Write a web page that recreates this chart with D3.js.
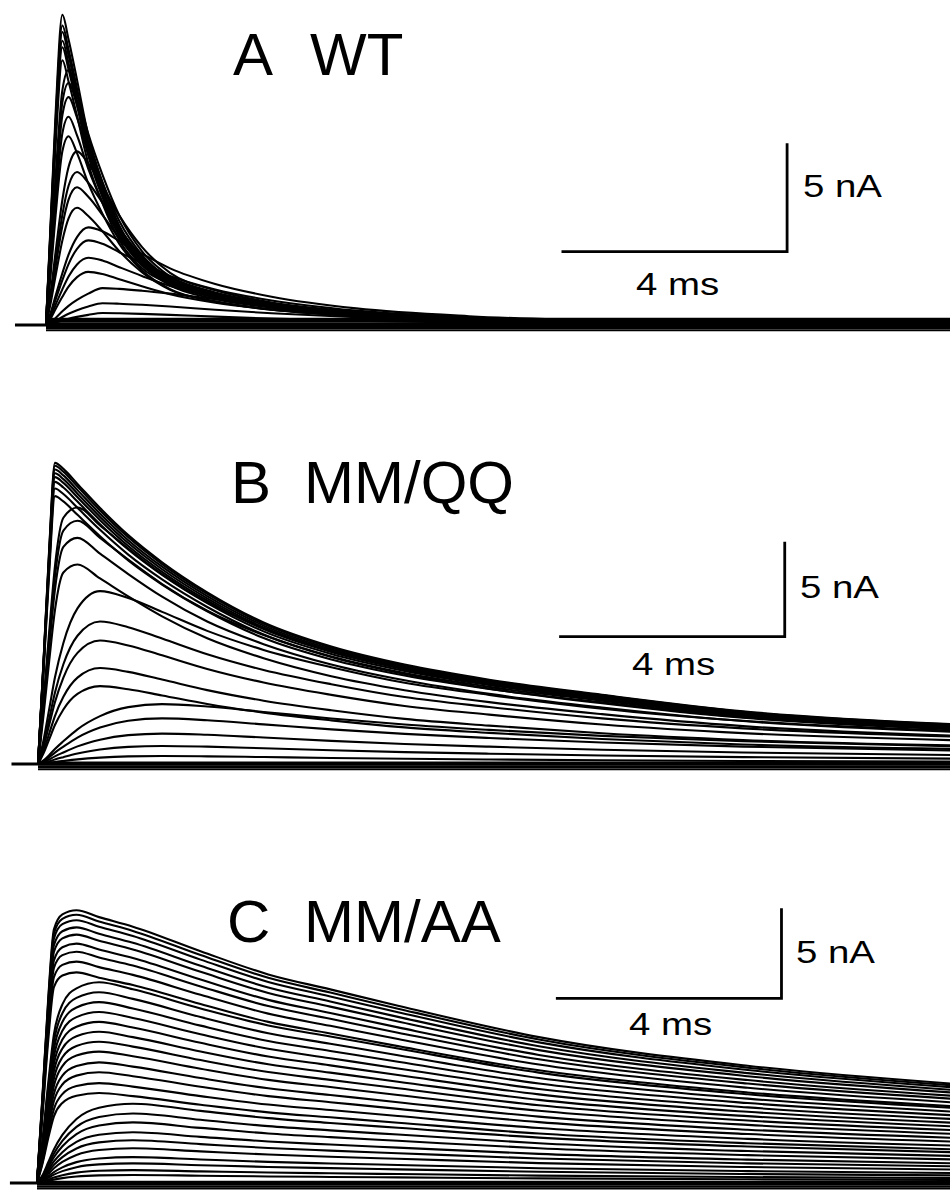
<!DOCTYPE html>
<html>
<head>
<meta charset="utf-8">
<script src="https://cdn.jsdelivr.net/npm/d3@7/dist/d3.min.js"></script>
<style>
  body { margin: 0; background: #fff; }
  svg { display: block; }
  text { font-family: "Liberation Sans", Arial, Helvetica, sans-serif; fill: #000; }
</style>
</head>
<body>
<div id="chart"></div>
<script>
// panel titles
const panelLetters = ["A", "B", "C"];
const panelNames = ["WT", "MM/QQ", "MM/AA"];

// scale bar sizes
const barTime = 4;    // ms
const barCurrent = 5; // nA
const barTimeLabel = "4 ms";
const barCurrentLabel = "5 nA";

// ---- A  WT ----
// sample times, ms after the step
const timesA = [0, 0.08, 0.17, 0.29, 0.4, 0.55, 0.75, 1.0, 1.3, 1.7, 2.2, 3.0, 4.0, 5.5, 7.5, 10.5, 16.5];
// normalised time courses (fast big ones -> slow small ones)
const shapesA = [
  [0, 0.32, 0.68, 1.0, 0.92, 0.79, 0.61, 0.46, 0.32, 0.215, 0.155, 0.105, 0.07, 0.04, 0.022, 0.012, 0.004],
  [0, 0.26, 0.58, 0.92, 1.0, 0.91, 0.75, 0.59, 0.43, 0.29, 0.19, 0.125, 0.083, 0.05, 0.027, 0.014, 0.005],
  [0, 0.18, 0.42, 0.72, 0.91, 1.0, 0.93, 0.8, 0.63, 0.45, 0.3, 0.2, 0.13, 0.078, 0.042, 0.02, 0.007],
  [0, 0.12, 0.3, 0.53, 0.72, 0.9, 1.0, 0.96, 0.86, 0.73, 0.58, 0.42, 0.29, 0.17, 0.09, 0.042, 0.012],
  [0, 0.07, 0.19, 0.37, 0.52, 0.68, 0.85, 1.0, 0.98, 0.93, 0.85, 0.7, 0.54, 0.36, 0.2, 0.09, 0.02]
];
// peak current of each trace (nA) and which time course it follows
const peaksA = [14.3, 13.8, 13.5, 13.1, 12.8, 12.2, 11.75, 11.15, 10.5, 9.6, 8.7, 8.0, 7.05, 6.35, 5.4, 4.5, 3.9, 3.1, 2.45, 1.7, 1.0, 0.55];
const shapeIndexA = [0, 0, 0, 0, 0, 0, 1, 1, 1, 1, 1, 2, 2, 2, 2, 3, 3, 3, 3, 4, 4, 4];
// small steady offsets that thicken the baseline (nA)
const leakA = [0.28, 0.18, 0.08, -0.04, -0.14, -0.24];

// ---- B  MM/QQ ----
const timesB = [0, 0.1, 0.2, 0.3, 0.45, 0.7, 1.1, 1.6, 2.2, 3.0, 4.0, 5.2, 6.5, 8.0, 10, 12.5, 16.5];
const shapesB = [
  [0, 0.35, 0.72, 1.0, 0.98, 0.93, 0.85, 0.76, 0.67, 0.57, 0.47, 0.39, 0.33, 0.28, 0.23, 0.175, 0.13],
  [0, 0.25, 0.52, 0.77, 0.96, 1.0, 0.93, 0.84, 0.74, 0.63, 0.53, 0.44, 0.37, 0.31, 0.25, 0.19, 0.14],
  [0, 0.14, 0.32, 0.5, 0.7, 0.9, 1.0, 0.96, 0.88, 0.77, 0.66, 0.56, 0.47, 0.4, 0.32, 0.25, 0.19],
  [0, 0.06, 0.15, 0.25, 0.38, 0.58, 0.8, 0.95, 1.0, 0.96, 0.87, 0.76, 0.66, 0.57, 0.47, 0.38, 0.29]
];
const peaksB = [15.85, 15.7, 15.5, 15.3, 15.1, 14.85, 14.5, 14.1, 13.5, 12.8, 11.9, 10.5, 9.1, 7.5, 6.5, 5.05, 4.1, 3.15, 2.4, 1.6, 0.95, 0.42];
const shapeIndexB = [0, 0, 0, 0, 0, 0, 0, 0, 1, 1, 1, 1, 2, 2, 2, 2, 2, 3, 3, 3, 3, 3];
const leakB = [0.08, -0.04, -0.16, -0.28];

// ---- C  MM/AA ----
const timesC = [0, 0.1, 0.2, 0.3, 0.45, 0.7, 1.1, 1.7, 2.9, 4.1, 5.2, 6.4, 8.9, 12.6, 16.5];
const shapesC = [
  [0, 0.33, 0.68, 0.93, 0.985, 1.0, 0.975, 0.94, 0.85, 0.765, 0.71, 0.65, 0.535, 0.43, 0.36],
  [0, 0.22, 0.5, 0.74, 0.89, 0.97, 1.0, 0.965, 0.87, 0.785, 0.73, 0.67, 0.55, 0.442, 0.37],
  [0, 0.1, 0.26, 0.42, 0.6, 0.8, 0.94, 0.99, 0.9, 0.81, 0.75, 0.69, 0.567, 0.455, 0.38]
];
const peaksC = [15.15, 14.9, 14.6, 14.2, 13.8, 13.3, 12.85, 12.3, 11.7, 11.15, 10.6, 10.05, 9.5, 8.95, 8.4, 7.85,
  7.3, 6.7, 6.15, 5.55, 5.0, 4.45, 3.9, 3.4, 2.85, 2.4, 1.95, 1.45, 1.1, 0.72, 0.45];
const shapeIndexC = [0, 0, 0, 0, 0, 0, 0, 0, 0, 1, 1, 1, 1, 1, 1, 1, 1, 1, 1, 1, 1, 2, 2, 2, 2, 2, 2, 2, 2, 2, 2];
const leakC = [0.06, -0.06, -0.18, -0.3];

const width = 950;
const height = 1194;
const pxPerMs = 56.4;

// layout of each panel (pixels), data refs from above
const panels = [
  { letter: panelLetters[0], name: panelNames[0], times: timesA, shapes: shapesA, peaks: peaksA, shapeIndex: shapeIndexA, leak: leakA,
    x0: 46, base: 325, pxPerNA: 21.7, preStart: -0.55,
    letterX: 233, nameX: 310, titleY: 75,
    barT: 13.14, barI: 3.38, nAx: 803, nAy: 197, msX: 636, msY: 295 },
  { letter: panelLetters[1], name: panelNames[1], times: timesB, shapes: shapesB, peaks: peaksB, shapeIndex: shapeIndexB, leak: leakB,
    x0: 38, base: 764, pxPerNA: 19, preStart: -0.47,
    letterX: 231, nameX: 304, titleY: 503,
    barT: 13.24, barI: 6.7, nAx: 800, nAy: 598, msX: 632, msY: 675 },
  { letter: panelLetters[2], name: panelNames[2], times: timesC, shapes: shapesC, peaks: peaksC, shapeIndex: shapeIndexC, leak: leakC,
    x0: 37, base: 1183, pxPerNA: 18, preStart: -0.48,
    letterX: 227, nameX: 304, titleY: 942,
    barT: 13.2, barI: 10.26, nAx: 796, nAy: 963, msX: 629, msY: 1035 }
];

const svg = d3.select("#chart")
  .append("svg")
  .attr("width", width)
  .attr("height", height);

panels.forEach((p) => {
  const x = d3.scaleLinear()
    .domain([0, 16])
    .range([p.x0, p.x0 + 16 * pxPerMs]);
  const y = d3.scaleLinear()
    .domain([0, 10])
    .range([p.base, p.base - 10 * p.pxPerNA]);

  const line = d3.line()
    .x((d) => x(d[0]))
    .y((d) => y(d[1]))
    .curve(d3.curveMonotoneX);

  const g = svg.append("g").attr("class", "panel");

  // baseline before and after the step
  const tEnd = p.times[p.times.length - 1];
  g.append("path")
    .attr("d", d3.line().x((d) => x(d[0])).y((d) => y(d[1]))([[p.preStart, 0], [tEnd, 0]]))
    .attr("fill", "none")
    .attr("stroke", "#000")
    .attr("stroke-width", 2.8);

  // leak offsets
  g.selectAll(".leak")
    .data(p.leak)
    .enter()
    .append("path")
    .attr("class", "leak")
    .attr("d", (v) => line(p.times.map((t) => [t, v])))
    .attr("fill", "none")
    .attr("stroke", "#000")
    .attr("stroke-width", 2.1);

  // current traces
  const traces = p.peaks.map((pk, i) => {
    const shape = p.shapes[p.shapeIndex[i]];
    return p.times.map((t, k) => [t, pk * shape[k]]);
  });

  g.selectAll(".trace")
    .data(traces)
    .enter()
    .append("path")
    .attr("class", "trace")
    .attr("d", line)
    .attr("fill", "none")
    .attr("stroke", "#000")
    .attr("stroke-width", 2.1)
    .attr("stroke-linejoin", "round");

  // scale bar
  const bar = [[p.barT - barTime, p.barI], [p.barT, p.barI], [p.barT, p.barI + barCurrent]];
  g.append("path")
    .attr("d", d3.line().x((d) => x(d[0])).y((d) => y(d[1]))(bar))
    .attr("fill", "none")
    .attr("stroke", "#000")
    .attr("stroke-width", 2.8);

  g.append("text")
    .attr("transform", `translate(${p.nAx},${p.nAy}) scale(1.2,1)`)
    .style("font-size", "32px")
    .text(barCurrentLabel);

  g.append("text")
    .attr("transform", `translate(${p.msX},${p.msY}) scale(1.2,1)`)
    .style("font-size", "32px")
    .text(barTimeLabel);

  // title
  g.append("text")
    .attr("x", p.letterX)
    .attr("y", p.titleY)
    .style("font-size", "60px")
    .text(p.letter);

  g.append("text")
    .attr("x", p.nameX)
    .attr("y", p.titleY)
    .style("font-size", "60px")
    .text(p.name);
});
</script>
</body>
</html>
